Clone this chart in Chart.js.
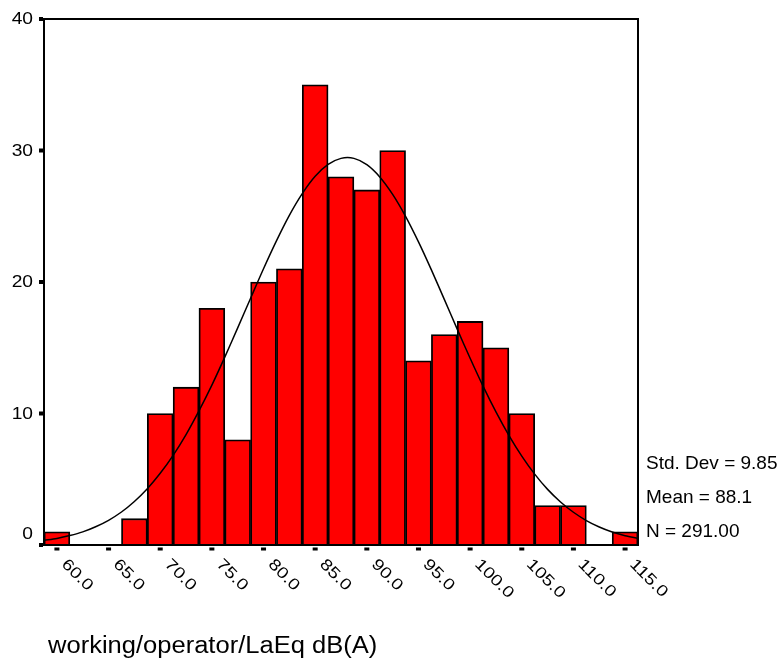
<!DOCTYPE html>
<html>
<head>
<meta charset="utf-8">
<script src="https://cdn.jsdelivr.net/npm/chart.js@4.4.0/dist/chart.umd.min.js"></script>
<style>
  html, body { margin: 0; padding: 0; background: #fff; }
  #wrap { width: 780px; height: 664px; }
</style>
</head>
<body>
<div id="wrap"><canvas id="chart" width="780" height="664"></canvas></div>
<script>
// histogram bins (centre of each 2.5 dB bin) and counts
const binCenters = [60, 62.5, 65, 67.5, 70, 72.5, 75, 77.5, 80, 82.5, 85, 87.5,
                    90, 92.5, 95, 97.5, 100, 102.5, 105, 107.5, 110, 112.5, 115];
const counts = [1, 0, 0, 2, 10, 12, 18, 8, 20, 21, 35, 28,
                27, 30, 14, 16, 17, 15, 10, 3, 3, 0, 1];

// fitted normal curve
const curveX = [58.75, 60, 61.25, 62.5, 63.75, 65, 66.25, 67.5, 68.75, 70, 71.25, 72.5,
                73.75, 75, 76.25, 77.5, 78.75, 80, 81.25, 82.5, 83.75, 85, 86.25, 87.5,
                88.75, 90, 91.25, 92.5, 93.75, 95, 96.25, 97.5, 98.75, 100, 101.25, 102.5,
                103.75, 105, 106.25, 107.5, 108.75, 110, 111.25, 112.5, 113.75, 115, 116.25];
const curveY = [0.35, 0.50, 0.72, 1.00, 1.39, 1.88, 2.51, 3.31, 4.28, 5.45, 6.82, 8.40,
                10.20, 12.16, 14.29, 16.51, 18.77, 21.01, 23.13, 25.07, 26.72, 28.04, 28.94, 29.40,
                29.40, 28.92, 27.99, 26.66, 24.99, 23.05, 20.92, 18.68, 16.42, 14.20, 12.08, 10.12,
                8.34, 6.76, 5.39, 4.23, 3.27, 2.49, 1.86, 1.37, 0.99, 0.71, 0.50];

const xTicks = [60, 65, 70, 75, 80, 85, 90, 95, 100, 105, 110, 115];
const xTickLabels = ['60.0', '65.0', '70.0', '75.0', '80.0', '85.0', '90.0',
                     '95.0', '100.0', '105.0', '110.0', '115.0'];
const yTicks = [0, 10, 20, 30, 40];
const statLines = ['Std. Dev = 9.85', 'Mean = 88.1', 'N = 291.00'];
const xTitle = 'working/operator/LaEq dB(A)';

const FONT = 'Arial, "Liberation Sans", sans-serif';

function drawText(ctx, text, x, y, size, sx, align, baseline, rot) {
    ctx.save();
    ctx.translate(x, y);
    if (rot) ctx.rotate(rot);
    ctx.scale(sx, 1);
    ctx.font = size + 'px ' + FONT;
    ctx.textAlign = align;
    ctx.textBaseline = baseline;
    ctx.fillText(text, 0, 0);
    ctx.restore();
}

// frame, tick marks and all texts drawn from the chart's own scales
const spssAxes = {
    id: 'spssAxes',
    afterDatasetsDraw(chart) {
        const ctx = chart.ctx;
        const a = chart.chartArea;
        const x = chart.scales.x;
        const y = chart.scales.y;
        ctx.save();
        ctx.strokeStyle = '#000';
        ctx.fillStyle = '#000';
        ctx.lineWidth = 2;
        ctx.strokeRect(a.left, a.top, a.right - a.left, a.bottom - a.top);

        yTicks.forEach(v => {
            const py = y.getPixelForValue(v);
            ctx.fillRect(a.left - 5, py - 2, 4, 4);
            const ly = v === 0 ? py - 10 : py + 1;
            drawText(ctx, String(v), a.left - 11, ly, 16, 1.2, 'right', 'middle');
        });

        xTicks.forEach((v, i) => {
            const px = x.getPixelForValue(v);
            ctx.fillRect(px - 2.5, a.bottom + 2.5, 5, 3);
            drawText(ctx, xTickLabels[i], px + 7, a.bottom + 17, 16, 1.2, 'left', 'middle', Math.PI / 4);
        });

        statLines.forEach((s, i) => {
            drawText(ctx, s, a.right + 8, 469 + i * 34, 19, 1, 'left', 'alphabetic');
        });

        drawText(ctx, xTitle, 48, 653, 23, 1.11, 'left', 'alphabetic');
        ctx.restore();
    }
};

const barData = binCenters.map((c, i) => ({x: c, y: counts[i]}));
const lineData = curveX.map((c, i) => ({x: c, y: curveY[i]}));

const chart = new Chart(document.getElementById('chart').getContext('2d'), {
    type: 'bar',
    data: {
        datasets: [{
            type: 'line',
            data: lineData,
            borderColor: '#000',
            borderWidth: 1.5,
            pointRadius: 0,
            tension: 0.3,
            fill: false,
            order: 0
        }, {
            type: 'bar',
            data: barData,
            backgroundColor: '#ff0000',
            borderColor: '#000',
            borderWidth: 1.8,
            barPercentage: 1,
            categoryPercentage: 1,
            order: 1
        }]
    },
    options: {
        responsive: false,
        animation: false,
        layout: { padding: { left: 44, top: 19, right: 142, bottom: 119 } },
        plugins: { legend: { display: false }, tooltip: { enabled: false } },
        scales: {
            x: { type: 'linear', min: 58.75, max: 116.25, offset: false, display: false },
            y: { min: 0, max: 40, display: false }
        }
    },
    plugins: [spssAxes]
});
</script>
</body>
</html>
